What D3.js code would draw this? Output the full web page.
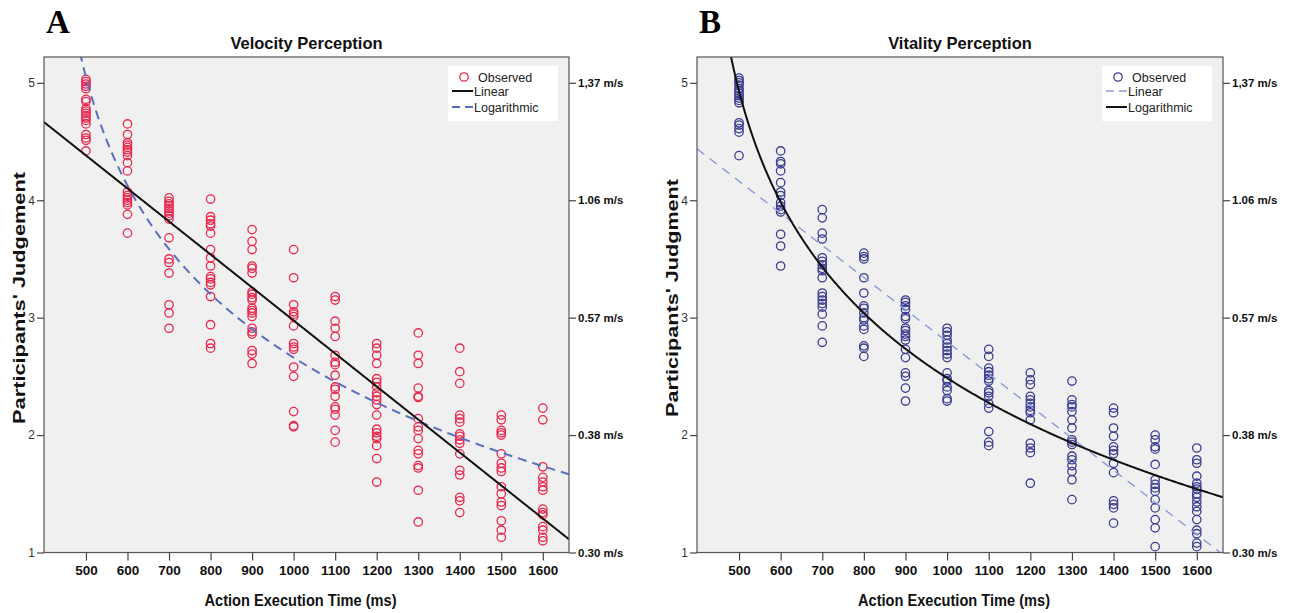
<!DOCTYPE html>
<html>
<head>
<meta charset="utf-8">
<script src="https://cdn.jsdelivr.net/npm/d3@7"></script>
<style>
  body { margin: 0; background: #fff; }
  svg { display: block; font-family: "Liberation Sans", Arial, sans-serif; }
</style>
</head>
<body>
<svg id="chart" width="1289" height="613"></svg>
<script>
// action execution times (ms), one column of judgements per time
var times = [500, 600, 700, 800, 900, 1000, 1100, 1200, 1300, 1400, 1500, 1600];

var velocityObs = [
  [5.03, 5.01, 4.99, 4.97, 4.95, 4.86, 4.84, 4.78, 4.76, 4.74, 4.72, 4.70, 4.68, 4.65, 4.56, 4.53, 4.51, 4.42],
  [4.65, 4.56, 4.49, 4.47, 4.45, 4.43, 4.41, 4.38, 4.32, 4.25, 4.07, 4.04, 4.02, 4.00, 3.98, 3.96, 3.88, 3.72],
  [4.02, 3.99, 3.97, 3.95, 3.93, 3.91, 3.89, 3.87, 3.84, 3.68, 3.50, 3.47, 3.38, 3.11, 3.04, 2.91],
  [4.01, 3.86, 3.83, 3.80, 3.78, 3.72, 3.58, 3.51, 3.44, 3.35, 3.33, 3.30, 3.28, 3.18, 2.94, 2.78, 2.74],
  [3.75, 3.65, 3.58, 3.44, 3.42, 3.38, 3.22, 3.20, 3.17, 3.15, 3.08, 3.06, 3.04, 3.01, 2.91, 2.88, 2.86, 2.72, 2.69, 2.61],
  [3.58, 3.34, 3.11, 3.05, 3.03, 3.01, 2.93, 2.78, 2.75, 2.73, 2.58, 2.50, 2.20, 2.08, 2.07],
  [3.18, 3.15, 2.97, 2.91, 2.84, 2.68, 2.62, 2.60, 2.51, 2.41, 2.39, 2.33, 2.24, 2.22, 2.17, 2.04, 1.94],
  [2.78, 2.74, 2.68, 2.61, 2.48, 2.45, 2.41, 2.36, 2.33, 2.30, 2.26, 2.17, 2.05, 2.02, 1.99, 1.97, 1.91, 1.80, 1.60],
  [2.87, 2.68, 2.61, 2.40, 2.33, 2.32, 2.14, 2.07, 2.04, 1.97, 1.87, 1.84, 1.74, 1.72, 1.53, 1.26],
  [2.74, 2.54, 2.44, 2.17, 2.14, 2.11, 2.01, 1.99, 1.96, 1.93, 1.84, 1.70, 1.66, 1.47, 1.44, 1.34],
  [2.17, 2.13, 2.04, 2.02, 2.00, 1.84, 1.76, 1.72, 1.69, 1.56, 1.50, 1.43, 1.40, 1.27, 1.19, 1.13],
  [2.23, 2.13, 1.73, 1.64, 1.60, 1.56, 1.53, 1.37, 1.34, 1.32, 1.22, 1.19, 1.13, 1.10]
];

var vitalityObs = [
  [5.04, 5.02, 5.00, 4.98, 4.95, 4.93, 4.91, 4.89, 4.87, 4.85, 4.83, 4.66, 4.64, 4.61, 4.58, 4.38],
  [4.42, 4.33, 4.31, 4.25, 4.15, 4.07, 4.04, 3.98, 3.95, 3.92, 3.90, 3.71, 3.61, 3.44],
  [3.92, 3.85, 3.72, 3.67, 3.51, 3.48, 3.45, 3.42, 3.40, 3.34, 3.21, 3.18, 3.15, 3.12, 3.09, 3.03, 2.93, 2.79],
  [3.55, 3.52, 3.50, 3.34, 3.21, 3.10, 3.08, 3.04, 3.00, 2.98, 2.93, 2.90, 2.76, 2.74, 2.67],
  [3.15, 3.13, 3.10, 3.07, 3.01, 2.99, 2.91, 2.89, 2.86, 2.84, 2.81, 2.73, 2.66, 2.53, 2.50, 2.40, 2.29],
  [2.91, 2.88, 2.85, 2.81, 2.78, 2.75, 2.72, 2.69, 2.66, 2.53, 2.48, 2.46, 2.41, 2.38, 2.31, 2.29],
  [2.73, 2.67, 2.57, 2.54, 2.51, 2.48, 2.46, 2.38, 2.36, 2.33, 2.27, 2.23, 2.03, 1.94, 1.91],
  [2.53, 2.47, 2.43, 2.33, 2.30, 2.27, 2.24, 2.21, 2.19, 2.13, 1.93, 1.89, 1.85, 1.59],
  [2.46, 2.30, 2.26, 2.24, 2.20, 2.13, 2.06, 1.96, 1.94, 1.92, 1.82, 1.79, 1.74, 1.69, 1.62, 1.45],
  [2.23, 2.19, 2.06, 1.99, 1.90, 1.87, 1.84, 1.76, 1.68, 1.44, 1.41, 1.38, 1.25],
  [2.00, 1.96, 1.90, 1.88, 1.75, 1.62, 1.58, 1.55, 1.52, 1.45, 1.38, 1.28, 1.21, 1.05],
  [1.89, 1.79, 1.76, 1.65, 1.59, 1.56, 1.54, 1.50, 1.47, 1.43, 1.39, 1.35, 1.28, 1.19, 1.16, 1.08, 1.05]
];

var judgementTicks = [1, 2, 3, 4, 5];
var speedLabels = ["0.30 m/s", "0.38 m/s", "0.57 m/s", "1.06 m/s", "1,37 m/s"];

// fitted models: linear y = a + b*ms, logarithmic y = a + b*ln((ms - 400) / 100)
var velocityLinear = [5.787, -0.002811];
var velocityLog = [5.05, -1.334];
var vitalityLinear = [5.53, -0.002735];
var vitalityLog = [4.93, -1.364];

var legendNames = ["Observed", "Linear", "Logarithmic"];

var svg = d3.select("#chart");
var plotTop = 57, plotBottom = 552.5;

var panels = [
  {
    id: "A", left: 44, right: 569, title: "Velocity Perception",
    ylabel: "Participants' Judgement", ylabelLen: 252, obs: velocityObs,
    lin: velocityLinear, log: velocityLog, dot: "#e8284e",
    linStyle: { color: "#111", width: 2, dash: null },
    logStyle: { color: "#5a6ebf", width: 2, dash: "9,6" }
  },
  {
    id: "B", left: 697, right: 1223, title: "Vitality Perception",
    ylabel: "Participants' Judgment", ylabelLen: 238, obs: vitalityObs,
    lin: vitalityLinear, log: vitalityLog, dot: "#3c3c90",
    linStyle: { color: "#8b9bd8", width: 1.4, dash: "9,7" },
    logStyle: { color: "#111", width: 2, dash: null }
  }
];

panels.forEach(drawPanel);

function drawPanel(p) {
  var x = d3.scaleLinear().domain([399, 1663]).range([p.left, p.right]);
  var y = d3.scaleLinear().domain([1, 5.22]).range([plotBottom, plotTop]);
  var g = svg.append("g");

  g.append("rect")
    .attr("x", p.left)
    .attr("y", plotTop)
    .attr("width", p.right - p.left)
    .attr("height", plotBottom - plotTop)
    .attr("fill", "#f0f0f0");

  g.append("clipPath")
    .attr("id", "clip" + p.id)
    .append("rect")
    .attr("x", p.left)
    .attr("y", plotTop)
    .attr("width", p.right - p.left)
    .attr("height", plotBottom - plotTop);

  var points = [];
  p.obs.forEach(function(col, i) {
    col.forEach(function(v) {
      points.push({ t: times[i], v: v });
    });
  });

  var plot = g.append("g").attr("clip-path", "url(#clip" + p.id + ")");

  plot.selectAll("circle.obs")
    .data(points)
    .enter()
    .append("circle")
    .attr("class", "obs")
    .attr("cx", function(d) { return x(d.t); })
    .attr("cy", function(d) { return y(d.v); })
    .attr("r", 4.2)
    .attr("fill", "none")
    .attr("stroke", p.dot)
    .attr("stroke-width", 1.3);

  var xs = d3.range(399, 1664, 2);
  var line = d3.line()
    .x(function(d) { return x(d[0]); })
    .y(function(d) { return y(d[1]); });

  var linPts = xs.map(function(t) { return [t, p.lin[0] + p.lin[1] * t]; });
  var logPts = xs.filter(function(t) { return t > 470; })
    .map(function(t) { return [t, p.log[0] + p.log[1] * Math.log((t - 400) / 100)]; });

  function drawFit(pts, st) {
    plot.append("path")
      .datum(pts)
      .attr("d", line)
      .attr("fill", "none")
      .attr("stroke", st.color)
      .attr("stroke-width", st.width)
      .attr("stroke-dasharray", st.dash);
  }
  // solid line on top
  if (p.linStyle.dash) {
    drawFit(linPts, p.linStyle);
    drawFit(logPts, p.logStyle);
  } else {
    drawFit(logPts, p.logStyle);
    drawFit(linPts, p.linStyle);
  }

  g.append("rect")
    .attr("x", p.left)
    .attr("y", plotTop)
    .attr("width", p.right - p.left)
    .attr("height", plotBottom - plotTop)
    .attr("fill", "none")
    .attr("stroke", "#555")
    .attr("stroke-width", 1.2);

  // axes
  var xAxis = g.append("g")
    .attr("transform", "translate(0," + plotBottom + ")")
    .call(d3.axisBottom(x).tickValues(times).tickSize(8).tickPadding(5).tickFormat(d3.format("d")));
  xAxis.selectAll("text")
    .style("font-size", "13.5px")
    .style("font-weight", "bold")
    .attr("fill", "#111");

  var yAxis = g.append("g")
    .attr("transform", "translate(" + p.left + ",0)")
    .call(d3.axisLeft(y).tickValues(judgementTicks).tickSize(7).tickPadding(2).tickFormat(d3.format("d")));
  yAxis.selectAll("text")
    .style("font-size", "12px")
    .attr("fill", "#333");

  var rAxis = g.append("g")
    .attr("transform", "translate(" + p.right + ",0)")
    .call(d3.axisRight(y).tickValues(judgementTicks).tickSize(7).tickPadding(2)
      .tickFormat(function(d, i) { return speedLabels[i]; }));
  rAxis.selectAll("text")
    .style("font-size", "11.5px")
    .style("font-weight", "bold")
    .attr("fill", "#111");

  [xAxis, yAxis, rAxis].forEach(function(a) {
    a.select(".domain").remove();
    a.selectAll(".tick line").attr("stroke", "#444").attr("stroke-width", 1.2);
  });

  // texts
  var mid = (p.left + p.right) / 2;
  g.append("text")
    .attr("x", mid)
    .attr("y", 49)
    .attr("text-anchor", "middle")
    .style("font-size", "16.5px")
    .style("font-weight", "bold")
    .attr("fill", "#111")
    .text(p.title);

  g.append("text")
    .attr("x", mid - 6)
    .attr("y", 606)
    .attr("text-anchor", "middle")
    .attr("textLength", 192)
    .attr("lengthAdjust", "spacingAndGlyphs")
    .style("font-size", "16.5px")
    .style("font-weight", "bold")
    .attr("fill", "#111")
    .text("Action Execution Time (ms)");

  g.append("text")
    .attr("transform", "translate(" + (p.left - 19) + ",298) rotate(-90)")
    .attr("text-anchor", "middle")
    .attr("textLength", p.ylabelLen)
    .attr("lengthAdjust", "spacingAndGlyphs")
    .style("font-size", "16.5px")
    .style("font-weight", "bold")
    .attr("fill", "#111")
    .text(p.ylabel);

  g.append("text")
    .attr("x", p.left + 2)
    .attr("y", 33)
    .style("font-family", "'Liberation Serif', 'Times New Roman', serif")
    .style("font-size", "33px")
    .style("font-weight", "bold")
    .attr("fill", "#000")
    .text(p.id);

  // legend
  var lx = p.right - 121, ly = 66;
  var legend = g.append("g");
  legend.append("rect")
    .attr("x", lx)
    .attr("y", ly)
    .attr("width", 110)
    .attr("height", 55)
    .attr("fill", "#fff");

  var rows = [11, 25, 41];
  legend.append("circle")
    .attr("cx", lx + 16)
    .attr("cy", ly + rows[0])
    .attr("r", 4.2)
    .attr("fill", "none")
    .attr("stroke", p.dot)
    .attr("stroke-width", 1.3);

  [p.linStyle, p.logStyle].forEach(function(st, i) {
    legend.append("line")
      .attr("x1", lx + 4)
      .attr("x2", lx + 25)
      .attr("y1", ly + rows[i + 1])
      .attr("y2", ly + rows[i + 1])
      .attr("stroke", st.color)
      .attr("stroke-width", st.width)
      .attr("stroke-dasharray", st.dash ? "8,5" : null);
  });

  legend.selectAll("text")
    .data(legendNames)
    .enter()
    .append("text")
    .attr("x", function(d, i) { return i == 0 ? lx + 30 : lx + 26; })
    .attr("y", function(d, i) { return ly + rows[i] + 4.5; })
    .style("font-size", "12.5px")
    .attr("fill", "#222")
    .text(function(d) { return d; });
}
</script>
</body>
</html>
